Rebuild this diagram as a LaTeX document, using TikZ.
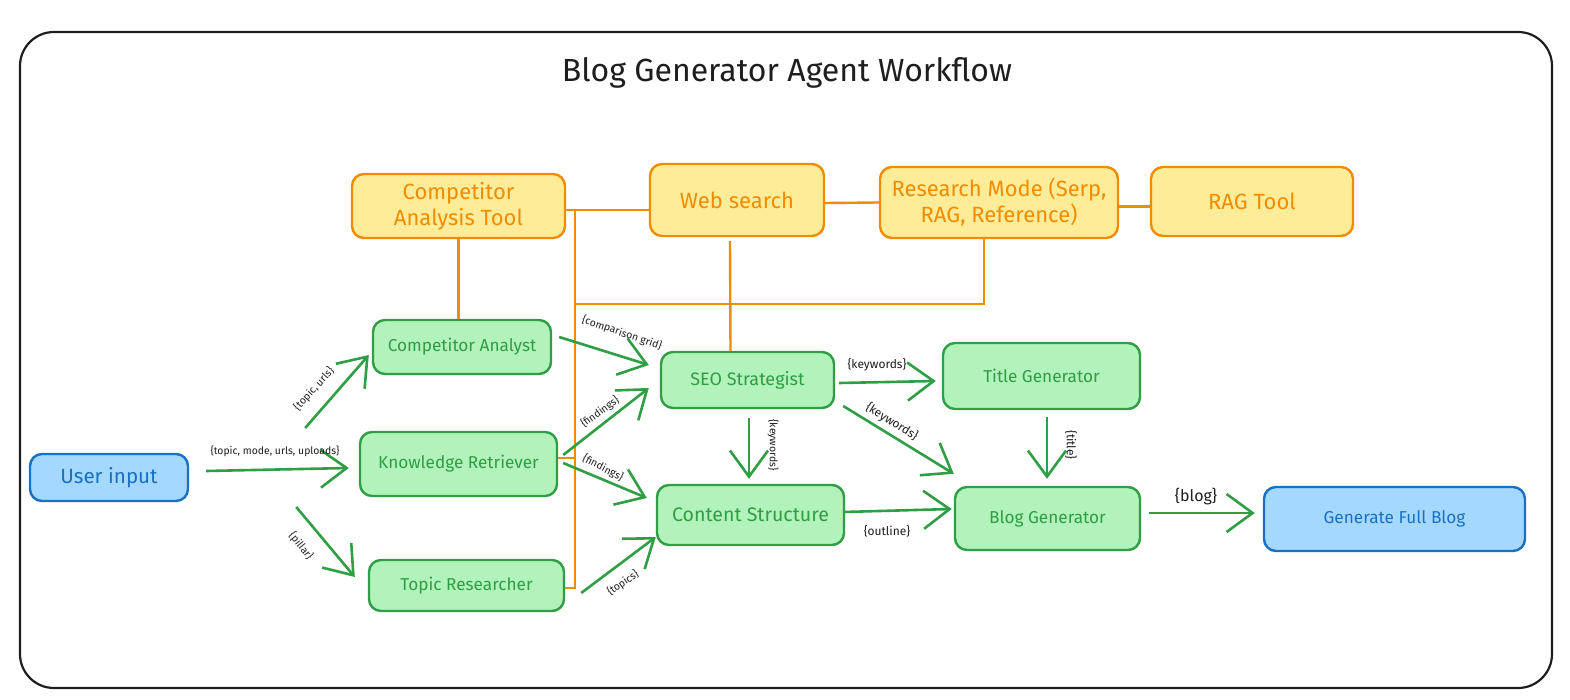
\documentclass[tikz,border=0pt]{standalone}
\usepackage{fontspec}
\setmainfont{Fira Sans}
\usetikzlibrary{arrows.meta}
\definecolor{ylfill}{HTML}{FFEC99}
\definecolor{org}{HTML}{F08C00}
\definecolor{grfill}{HTML}{B2F2BB}
\definecolor{grn}{HTML}{2F9E44}
\definecolor{blfill}{HTML}{A5D8FF}
\definecolor{blu}{HTML}{1971C2}
\definecolor{ink}{HTML}{1E1E1E}
\tikzset{
  box/.style={draw, rounded corners=6pt, line width=1.2pt, inner sep=0pt, align=center},
  ybox/.style={box, draw=org, fill=ylfill, text=org, font=\fontsize{11}{13}\selectfont},
  gbox/.style={box, draw=grn, fill=grfill, text=grn, font=\fontsize{8.6}{10}\selectfont},
  bbox/.style={box, draw=blu, fill=blfill, text=blu, font=\fontsize{8.6}{10}\selectfont},
  ln/.style={draw=org, line width=1.2pt},
  arr/.style={draw=grn, line width=1.3pt, -{Straight Barb[length=13pt,width=19pt]}},
  lbl/.style={text=ink, inner sep=1pt, font=\fontsize{5.2}{6}\selectfont},
  mlbl/.style={text=ink, inner sep=1pt, font=\fontsize{6}{7}\selectfont},
}
\begin{document}
\begin{tikzpicture}[x=0.5pt,y=-0.5pt]
\useasboundingbox (0,0) rectangle (1570,700);
\fill[white] (0,0) rectangle (1570,700);
\draw[ink, line width=1.1pt, rounded corners=17pt] (20,32) rectangle (1552,688);
\node[text=ink, font=\fontsize{16}{19}\selectfont] (title) at (787,73) {Blog Generator Agent Workflow};

% tools
\node[ybox, minimum width=106.5pt, minimum height=32pt] (cat) at (458.5,206) {Competitor\\Analysis Tool};
\node[ybox, minimum width=87pt, minimum height=36pt] (web) at (737,200) {Web search};
\node[ybox, minimum width=119pt, minimum height=35.5pt] (rmode) at (999,202.5) {Research Mode (Serp,\\RAG, Reference)};
\node[ybox, minimum width=101pt, minimum height=34.5pt] (rag) at (1252,201.5) {RAG Tool};

% agents
\node[gbox, minimum width=89pt, minimum height=27pt] (ca) at (462,347) {Competitor Analyst};
\node[gbox, minimum width=98.5pt, minimum height=32pt] (kr) at (458.5,464) {Knowledge Retriever};
\node[gbox, minimum width=97.5pt, minimum height=25.5pt] (tr) at (466.5,585.5) {Topic Researcher};
\node[bbox, minimum width=79pt, minimum height=23.5pt, font=\fontsize{10.3}{12}\selectfont] (ui) at (109,477.5) {User input};
\node[gbox, minimum width=86.5pt, minimum height=28pt, font=\fontsize{9}{11}\selectfont] (seo) at (747.5,380) {SEO Strategist};
\node[gbox, minimum width=93.5pt, minimum height=30pt, font=\fontsize{9.8}{11}\selectfont] (cs) at (750.5,515) {Content Structure};
\node[gbox, minimum width=98.5pt, minimum height=33pt] (tg) at (1041.5,376) {Title Generator};
\node[gbox, minimum width=92.5pt, minimum height=31.5pt] (bg) at (1047.5,518.5) {Blog Generator};
\node[bbox, minimum width=130.5pt, minimum height=32pt] (gfb) at (1394.5,519) {Generate Full Blog};

% orange tool links
\coordinate (bus1) at (575,210);
\coordinate (bus2) at (575,588);
\coordinate (bus3) at (575,304);
\coordinate (rj) at (984,304);
\draw[ln] (cat.east |- bus1) -- ([shift={(0,10)}]web.west);
\draw[ln] (bus1) -- (bus2) -- (tr.east |- bus2);
\draw[ln] ([shift={(0,-6)}]kr.east) -- (bus1 |- 0,458);
\draw[ln] (bus3) -- (rj) -- (rj |- rmode.south);
\draw[ln] ([shift={(-7,4)}]web.south) -- ([shift={(-17,0)}]seo.north);
\draw[ln] (cat.south) -- (cat.south |- ca.north);
\draw[ln] ([shift={(0,3)}]web.east) -- (rmode.west);
\draw[ln] ([shift={(0,4)}]rmode.east) -- ([shift={(0,5)}]rag.west);

% green data flow
\draw[arr] ([shift={(116,-49.5)}]ui.east) -- ([shift={(-3,8)}]ca.west);
\draw[arr] ([shift={(17,-6.5)}]ui.east) -- ([shift={(-10,4)}]kr.west);
\draw[arr] ([shift={(107,29.5)}]ui.east) -- ([shift={(-13,-8.5)}]tr.west);
\draw[arr] ([shift={(7,-10)}]ca.east) -- ([shift={(-11,-15)}]seo.west);
\draw[arr] ([shift={(5,-9)}]kr.east) -- ([shift={(-11,8)}]seo.west);
\draw[arr] ([shift={(5,-1)}]kr.east) -- ([shift={(-9,-17)}]cs.west);
\draw[arr] ([shift={(16,7.5)}]tr.east) -- ([shift={(0,22)}]cs.west);
\draw[arr] ([shift={(1.5,9)}]seo.south) -- ([shift={(-1.5,-5)}]cs.north);
\draw[arr] ([shift={(4,3)}]seo.east) -- ([shift={(-6,5)}]tg.west);
\draw[arr] ([shift={(8,26)}]seo.east) -- ([shift={(0,-12)}]bg.north west);
\draw[arr] ([shift={(-2,-3)}]cs.east) -- ([shift={(-2,-9.5)}]bg.west);
\draw[arr] ([shift={(5.5,7)}]tg.south) -- ([shift={(-0.5,-7)}]bg.north);
\draw[arr] ([shift={(8,-5.5)}]bg.east) -- ([shift={(-8,-6)}]gfb.west);

% labels
\node[lbl, rotate=48] (l1) at (314,389) {\{topic, urls\}};
\node[lbl] (l2) at (275,451) {\{topic, mode, urls, uploads\}};
\node[lbl, rotate=-52] (l3) at (301,546) {\{pillar\}};
\node[lbl, rotate=-19] (l4) at (622,333) {\{comparison grid\}};
\node[lbl, rotate=36] (l5) at (600,412) {\{findings\}};
\node[lbl, rotate=-28] (l6) at (603,468) {\{findings\}};
\node[lbl, rotate=35] (l7) at (623,583) {\{topics\}};
\node[lbl, rotate=-90] (l8) at (773,445) {\{keywords\}};
\node[mlbl] (l9) at (877,365) {\{keywords\}};
\node[mlbl, rotate=-32] (l10) at (892,422) {\{keywords\}};
\node[mlbl] (l11) at (887,531) {\{outline\}};
\node[mlbl, rotate=-90] (l12) at (1071,445) {\{title\}};
\node[text=ink, inner sep=1pt, font=\fontsize{8}{9}\selectfont] (l13) at (1196,497) {\{blog\}};
\end{tikzpicture}
\end{document}
